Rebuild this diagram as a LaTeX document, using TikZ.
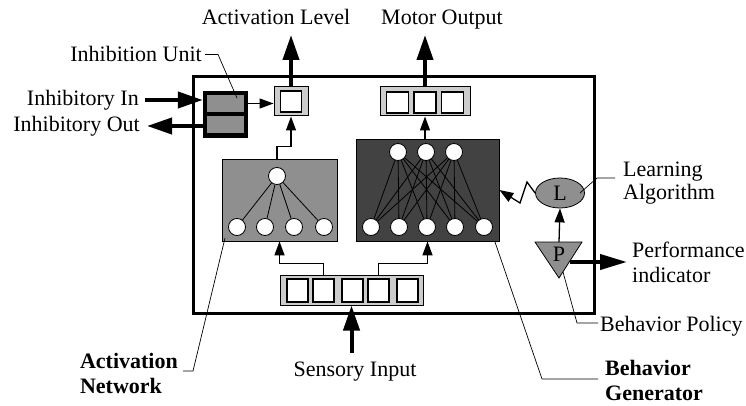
\documentclass[tikz,border=0pt]{standalone}
\usepackage{fontspec}
\setmainfont{Liberation Serif}
\usetikzlibrary{arrows.meta}
\usetikzlibrary{shapes.geometric}
\usetikzlibrary{positioning}
\definecolor{midgray}{gray}{0.56}
\definecolor{darkgray}{gray}{0.26}
\definecolor{traygray}{gray}{0.8}

\begin{document}
\begin{tikzpicture}[line join=miter,x=1pt,y=-1pt,
  txt/.style={font=\fontsize{22}{24}\selectfont,inner sep=0pt},
  btxt/.style={font=\fontsize{22}{24}\selectfont\bfseries,inner sep=0pt},
  bigarrow/.style={line width=4pt,-{Triangle[length=25pt,width=16pt]}},
  smallarrow/.style={line width=1.3pt,-{Triangle[length=14pt,width=10pt]}},
  leader/.style={line width=0.7pt},
  tray/.style={draw,line width=1pt,fill=traygray,inner sep=0pt},
  cell/.style={draw,line width=1.2pt,fill=white,inner sep=0pt,minimum width=21pt,minimum height=21pt},
  neuron/.style={circle,draw,line width=0.8pt,fill=white,inner sep=0pt,minimum size=17pt}]
\useasboundingbox (0,0) rectangle (746,406);

%runko
\draw[line width=3pt] (193,77) rectangle (594,313);

%inhibition unit
\node[fill=black,inner sep=0pt,minimum width=45pt,minimum height=47pt] (inh) at (225.5,114.5) {};
\node[fill=midgray,inner sep=0pt,minimum width=37pt,minimum height=17pt] (inh1) at (225.5,103.5) {};
\node[fill=midgray,inner sep=0pt,minimum width=37pt,minimum height=17pt] (inh2) at (225.5,125) {};
\node[txt,anchor=base east] (iunit) at (202,62) {Inhibition Unit};
\node[txt,anchor=base east] (iin) at (139,106) {Inhibitory In};
\node[txt,anchor=base east] (iout) at (140,132) {Inhibitory Out};
\draw[bigarrow] ([xshift=6pt]iin.east |- 0,100) -- (inh.west |- 0,100);
\draw[bigarrow] (inh.west |- 0,126) -- ([xshift=7pt]iout.east |- 0,126);
\draw[leader] ([xshift=3pt]iunit.east) -- ++(13,0) -- (237,98);

%activation level
\node[tray,minimum width=34pt,minimum height=29pt] (alev) at (291,101.5) {};
\node[cell] (alevc) at (alev) {};
\node[txt,anchor=base] (alevtxt) at (276,25) {Activation Level};
\coordinate (alevtop) at (291,35);
\draw[smallarrow] (inh.east |- inh1) -- (alev.west |- inh1);
\draw[bigarrow] (alev.north) -- (alevtop);

%motor output
\node[tray,minimum width=90pt,minimum height=29pt] (mout) at (425,101.5) {};
\foreach \x [count=\i] in {397.5,425,452.5}
{
\node[cell,minimum width=22pt] (mc\i) at (\x,102.5) {};
}
\node[txt,anchor=base] (mouttxt) at (442,25) {Motor Output};
\coordinate (mouttop) at (425,35);
\draw[bigarrow] (mout.north -| mc2) -- (mouttop);

%activation network
\node[draw,line width=0.8pt,fill=midgray,minimum width=115pt,minimum height=82pt] (anet) at (279.5,200) {};
\node[neuron] (atop) at (277,176) {};
\foreach \x [count=\i] in {237,265,294,324}
{
\node[neuron] (ab\i) at (\x,227) {};
\draw[line width=0.8pt] (atop) -- (ab\i);
}
\draw[smallarrow] (anet.north -| atop) -- ++(0,-12) -| (alev.south);

%behavior generator
\node[draw,line width=0.8pt,fill=darkgray,minimum width=143pt,minimum height=102pt] (bg) at (427.5,190) {};
\foreach \x [count=\i] in {398,426,454}
\node[neuron] (bt\i) at (\x,152) {};
\foreach \x [count=\j] in {371,399,427,455,484}
\node[neuron] (bb\j) at (\x,227) {};
\foreach \i in {1,2,3}
\foreach \j in {1,...,5}
\draw[line width=0.8pt] (bt\i) -- (bb\j);
\draw[smallarrow] (bg.north -| mc2) -- (mout.south -| mc2);

%sensory input
\node[tray,minimum width=143pt,minimum height=30pt] (sens) at (351.5,290) {};
\foreach \x [count=\i] in {297.5,323.5,352.5,378.5,407.5}
{
\node[cell,minimum height=23pt] (sc\i) at (\x,290.5) {};
}
\node[txt,anchor=base] (senstxt) at (355,376) {Sensory Input};
\coordinate (sensbot) at (351.5,353);
\draw[bigarrow] (sensbot) -- (sens.south);
\draw[smallarrow] (sens.north -| sc2) -- ++(0,-11) -| (anet.south);
\draw[smallarrow] (sens.north -| sc4) -- ++(0,-11) -| (bg.south);

%learning ja policy
\node[draw,ellipse,line width=0.8pt,fill=midgray,minimum width=49pt,minimum height=30pt,txt] (lalg) at (560,193) {L};
\draw[line width=0.8pt,fill=midgray] (535,242) -- (582,242) -- (559,278) -- cycle;
\node[txt] (pol) at (559,254) {P};
\coordinate (ptop) at (559,242);
\coordinate (pright) at (570,262);
\draw[smallarrow] (ptop) -- (lalg.south);
\draw[smallarrow] (lalg.west) -- (527,182) -- (520,203) -- (bg.east);
\node[txt,anchor=base west] (perf1) at (632,257) {Performance};
\node[txt,anchor=base west] (perf2) at (632,282) {indicator};
\draw[line width=4pt,-{Triangle[length=27pt,width=15pt]}] (pright) -- ([xshift=-5pt]perf1.west |- pright);
\node[txt,anchor=base west] (lrn1) at (623,176) {Learning};
\node[txt,anchor=base west] (lrn2) at (623,199) {Algorithm};
\draw[leader] (580,193) -- (597,178) -- ([xshift=-8pt]lrn1.west |- 0,178);
\node[txt,anchor=base west] (bpol) at (600,331) {Behavior Policy};
\draw[leader] (563,272) -- (577,323) -- ([xshift=-2pt]bpol.west |- 0,323);

%nimet
\node[btxt,anchor=base east] (an1) at (178,368) {Activation};
\node[btxt,anchor=base west] (an2) at ([yshift=-25pt]an1.base west) {Network};
\draw[leader] (225,238) -- (193,371) -- ([xshift=5pt]an1.east |- 0,371);
\node[btxt,anchor=base west] (bg1) at (605,375) {Behavior};
\node[btxt,anchor=base west] (bg2) at (605,400) {Generator};
\draw[leader] (495,242) -- (542,379) -- ([xshift=-7pt]bg1.west |- 0,379);
\end{tikzpicture}
\end{document}
